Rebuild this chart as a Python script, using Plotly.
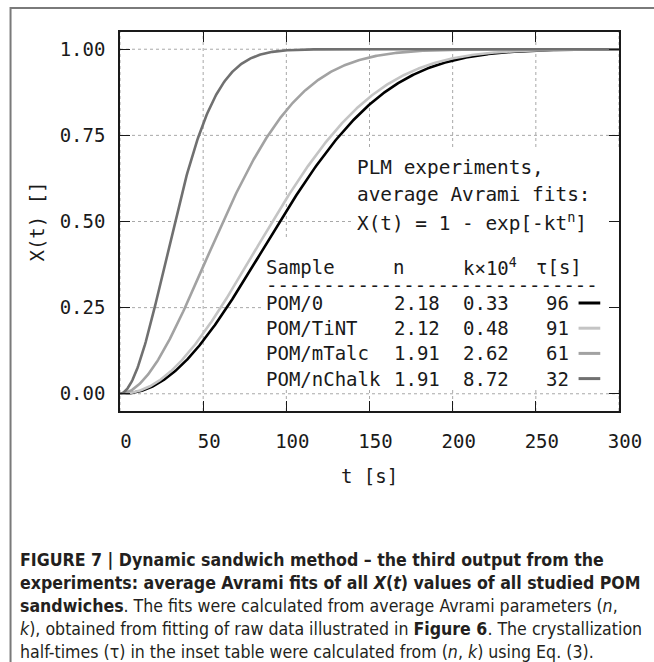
import numpy as np
import plotly.graph_objects as go

samples = ["POM/0", "POM/TiNT", "POM/mTalc", "POM/nChalk"]
n_vals = [2.18, 2.12, 1.91, 1.91]
k_vals_e4 = [0.33, 0.48, 2.62, 8.72]      # k x 10^4
tau_vals = [96, 91, 61, 32]              # half-times [s]
colors = ["#000000", "#c4c4c4", "#a2a2a2", "#707070"]

x_ticks = [0, 50, 100, 150, 200, 250, 300]
y_ticks = [0.0, 0.25, 0.5, 0.75, 1.0]

# time grid on which the Avrami fits are drawn
t = np.linspace(0, 300, 601)

# ---- layout geometry (pixels) ----
W, H = 654, 662
L, R, T, B = 120, 626, 32, 411


def px(xp):
    return (xp - L) / (R - L)


def py(yp):
    return (B - yp) / (B - T)


MONO = "DejaVu Sans Mono"
CAP = "DejaVu Sans Condensed, Liberation Sans, Arial"
TXT = "#1a1a1a"
GRID = dict(color="#a8a8a8", width=1, dash="dot")

fig = go.Figure()
for name, n, k, c in zip(samples, n_vals, k_vals_e4, colors):
    X = 1 - np.exp(-(k * 1e-4) * t ** n)
    fig.add_trace(go.Scatter(x=t, y=X, mode="lines", name=name,
                             line=dict(color=c, width=2.6), showlegend=False,
                             hoverinfo="skip"))

shapes = []
# outer frame of the figure panel
shapes.append(dict(type="rect", xref="paper", yref="paper",
                   x0=px(9), x1=px(720), y0=py(720), y1=py(8),
                   line=dict(color="#7a7a7a", width=2), fillcolor="rgba(0,0,0,0)",
                   layer="below"))
# dotted grid (drawn as shapes so the inset boxes can cover it)
for xv in x_ticks:
    shapes.append(dict(type="line", xref="x", yref="paper", x0=xv, x1=xv,
                       y0=0, y1=1, line=GRID, layer="below"))
for yv in y_ticks:
    shapes.append(dict(type="line", xref="paper", yref="y", x0=0, x1=1,
                       y0=yv, y1=yv, line=GRID, layer="below"))
# opaque boxes behind the inset texts
shapes.append(dict(type="rect", xref="paper", yref="paper",
                   x0=px(357), x1=px(R), y0=py(240), y1=py(147),
                   line=dict(width=0), fillcolor="white", layer="below"))
shapes.append(dict(type="rect", xref="paper", yref="paper",
                   x0=px(264), x1=px(R), y0=py(390), y1=py(239),
                   line=dict(width=0), fillcolor="white", layer="below"))

ann = []


def text(xp, yp, s, size=19, anchor="left", font=MONO, color=TXT, height=None):
    a = dict(x=px(xp), y=py(yp), xref="paper", yref="paper", text=s,
             showarrow=False, xanchor=anchor, yanchor="middle",
             font=dict(family=font, size=size, color=color))
    if height is not None:
        a["height"] = height
    ann.append(a)


# inset: heading
text(358, 167, "PLM experiments,", size=19.4)
text(358, 194, "average Avrami fits:", size=19.4)
text(358, 222, "X(t) = 1 - exp[-kt<sup>n</sup>]", size=19.4)

# inset: table header
row_y0, row_dy = 303, 25.2
text(266, 267, "Sample")
text(395, 267, "n")
text(466, 267, "k×10<sup>4</sup>")
text(540, 267, "τ[s]")
text(266, 285, "-" * 29, height=10)
for i, (s, n, k, tau, c) in enumerate(zip(samples, n_vals, k_vals_e4, tau_vals, colors)):
    y = row_y0 + i * row_dy
    text(266, y, s)
    text(396, y, f"{n:.2f}")
    text(466, y, f"{k:.2f}")
    text(577, y, f"{tau}", anchor="right")
    shapes.append(dict(type="line", xref="paper", yref="paper",
                       x0=px(585), x1=px(607), y0=py(y), y1=py(y),
                       line=dict(color=c, width=3)))

# caption
cap_lines = [
    "<b>FIGURE 7 | Dynamic sandwich method – the third output from the</b>",
    "<b>experiments: average Avrami fits of all <i>X</i>(<i>t</i>) values of all studied POM</b>",
    "<b>sandwiches</b>. The fits were calculated from average Avrami parameters (<i>n</i>,",
    "<i>k</i>), obtained from fitting of raw data illustrated in <b>Figure 6</b>. The crystallization",
    "half-times (τ) in the inset table were calculated from (<i>n</i>, <i>k</i>) using Eq. (3).",
]
for i, s in enumerate(cap_lines):
    text(17, 560 + i * 23, s, size=17.6, font=CAP, color="#231f20")

axis_common = dict(
    showline=True, linecolor="#1a1a1a", linewidth=1.6, mirror="allticks",
    ticks="inside", ticklen=10, tickwidth=1.2, tickcolor="#1a1a1a",
    showgrid=False, zeroline=False,
    tickfont=dict(family=MONO, size=19, color=TXT),
)

fig.update_layout(
    width=W, height=H, margin=dict(l=L, r=W - R, t=T, b=H - B),
    paper_bgcolor="white", plot_bgcolor="white",
    shapes=shapes, annotations=ann,
    xaxis=dict(range=[0, 300], tickvals=x_ticks, ticklabelstandoff=12,
               ticklabelshift=6,
               title=dict(text="t [s]", font=dict(family=MONO, size=19, color=TXT),
                          standoff=19), **axis_common),
    yaxis=dict(range=[-0.05, 1.05], tickvals=y_ticks, tickformat=".2f",
               ticklabelstandoff=9,
               title=dict(text="X(t) []", font=dict(family=MONO, size=19, color=TXT),
                          standoff=10), **axis_common),
)

fig.write_html("out.html")
